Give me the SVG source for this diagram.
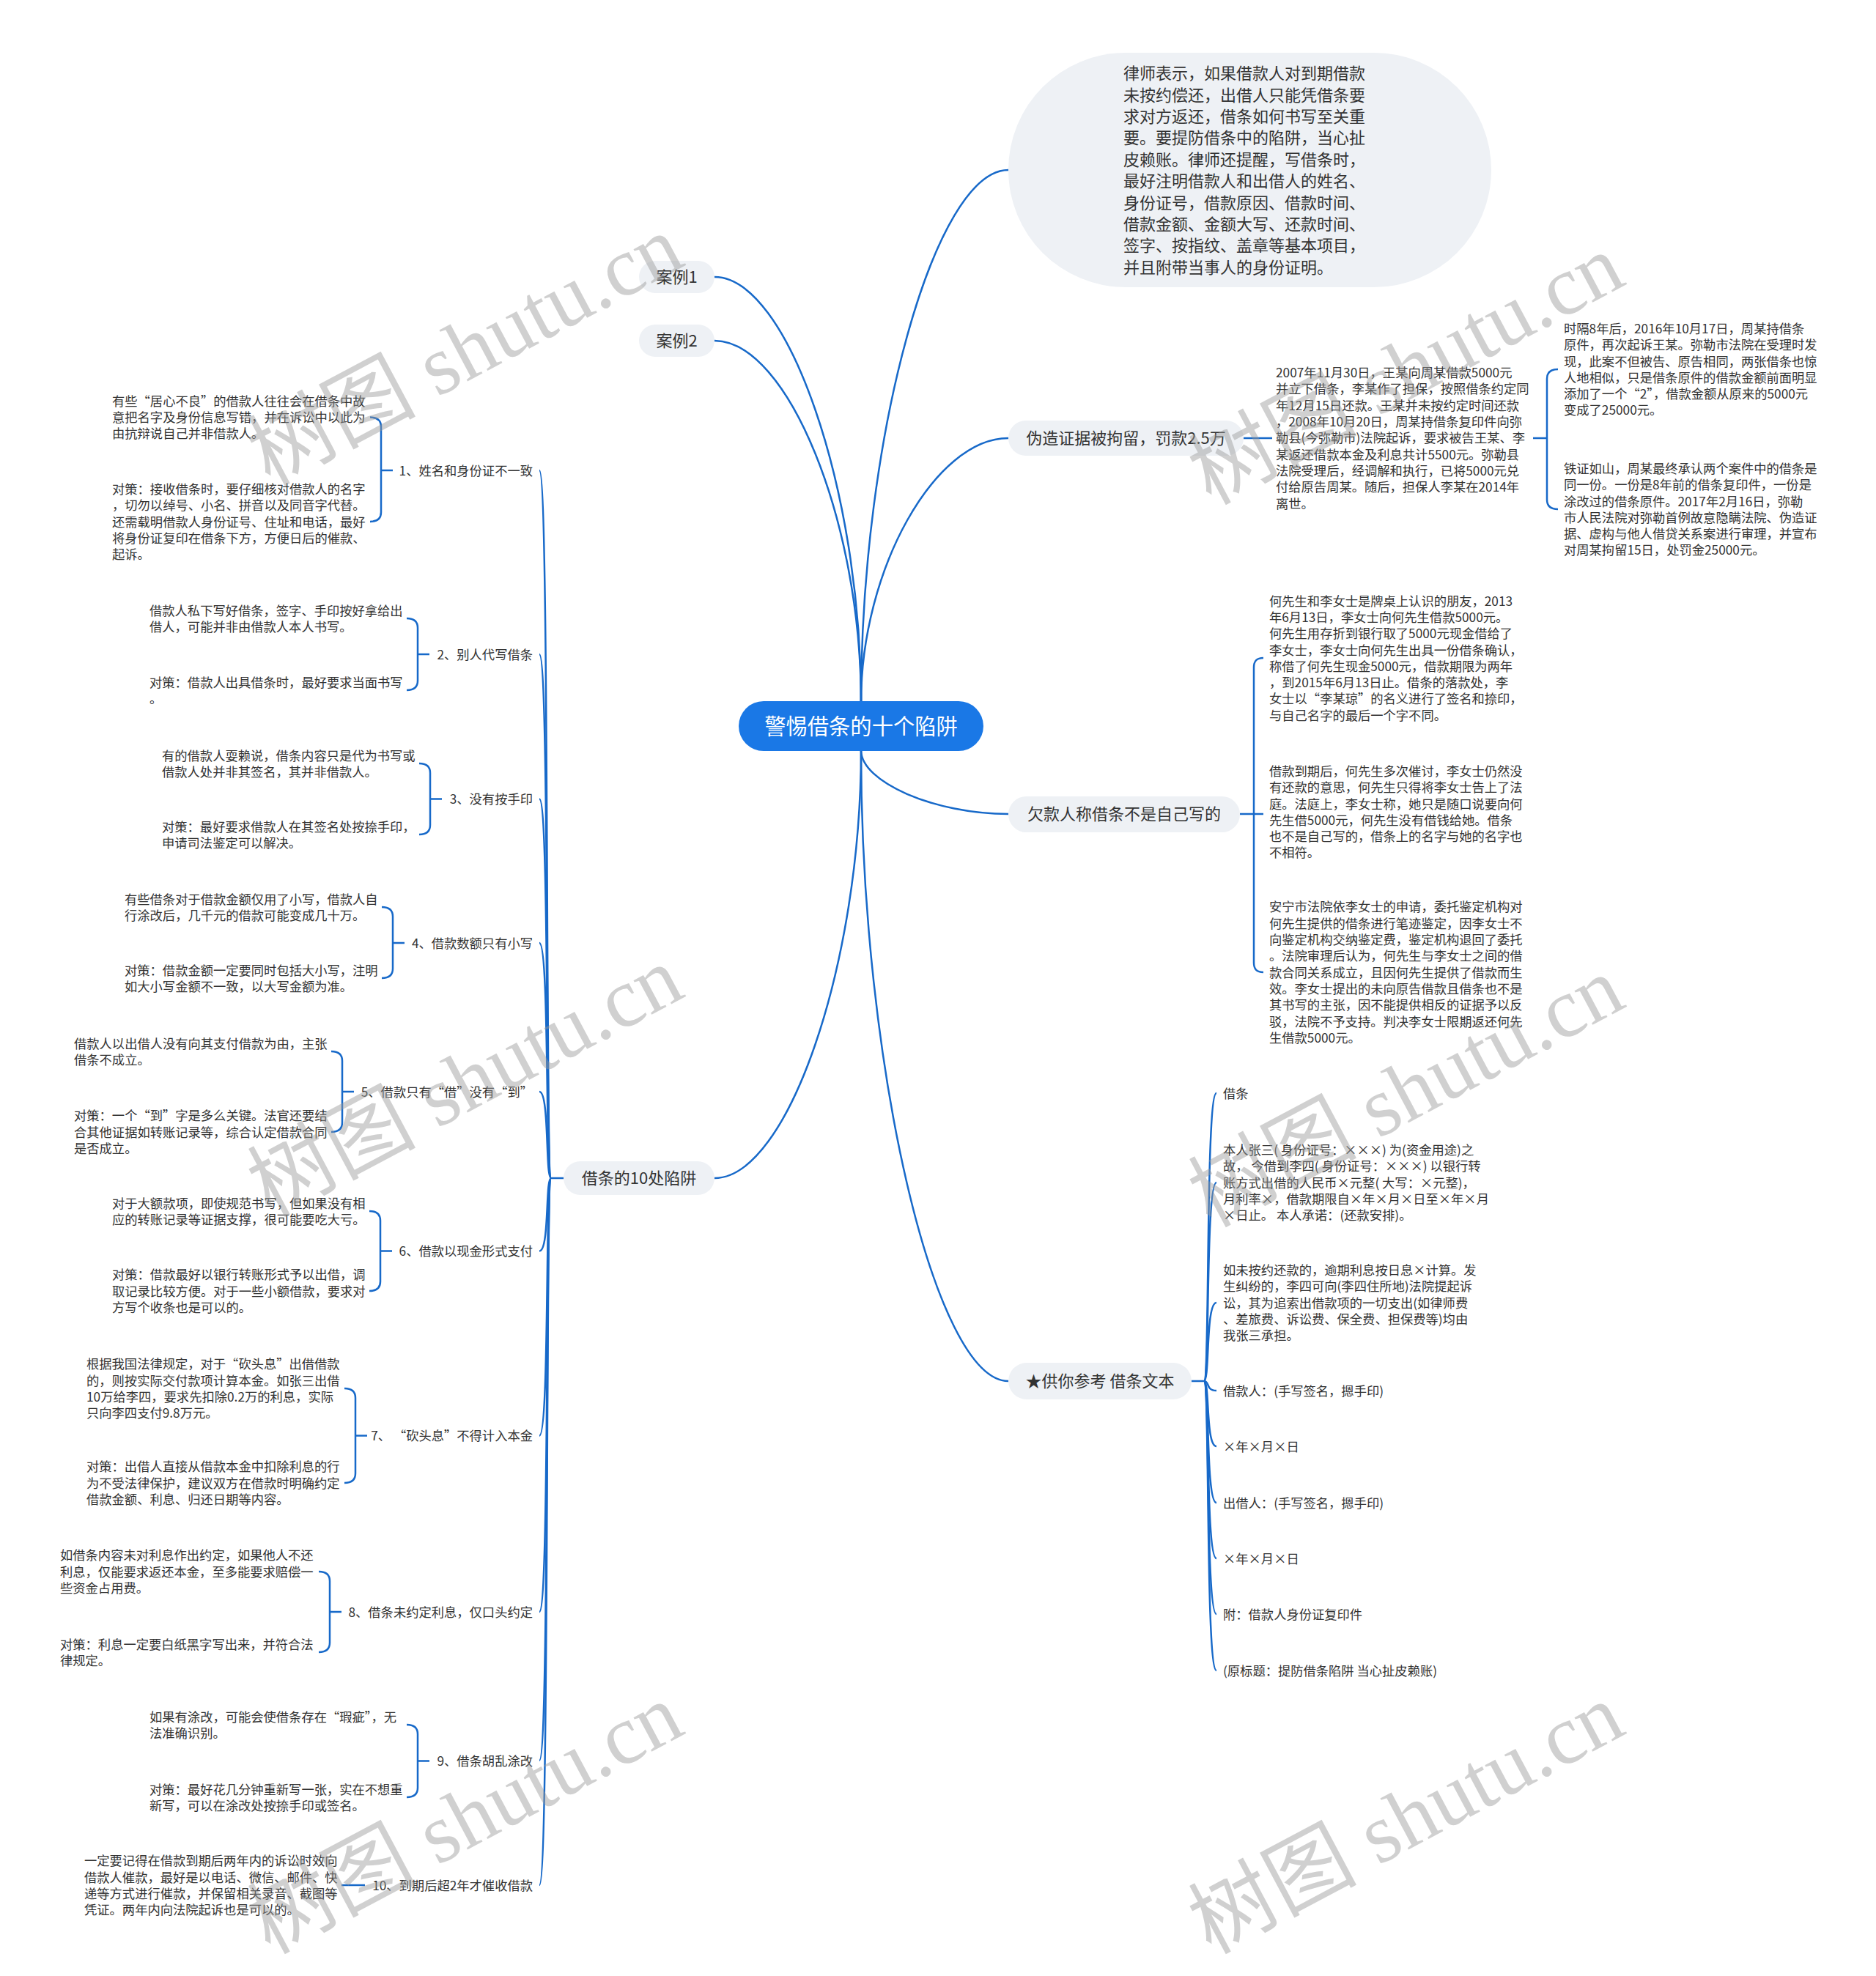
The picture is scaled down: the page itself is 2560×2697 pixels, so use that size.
<svg xmlns="http://www.w3.org/2000/svg" width="2560" height="2697" viewBox="0 0 2560 2697">
<style>
.t{font-family:"Noto Sans CJK SC","Noto Sans",sans-serif;fill:#333}
.s{font-size:17.3px}
.m{font-size:22px}
.c{font-size:29.3px;fill:#fff}
.e{text-anchor:end}
.mid{text-anchor:middle}
.n{fill:#eef1f5}
.ln{fill:none;stroke:#1769c9;stroke-width:2.5}
.wm{font-size:115px;fill:#999;opacity:.45}
</style>
<rect width="2560" height="2697" fill="#fff"/>

<g id="connectors">
<path class="ln" d="M1175 958 C1175 595 1275.5 232 1376 232"/>
<path class="ln" d="M1175 958 C1175 778 1275.5 598 1376 598"/>
<path class="ln" d="M1175 958 C1175 668 1075 378 975 378"/>
<path class="ln" d="M1175 958 C1175 711.5 1075 465 975 465"/>
<path class="ln" d="M1175 1024 C1175 1067.5 1275.5 1111 1376 1111"/>
<path class="ln" d="M1175 1024 C1175 1454.5 1275.5 1885 1376 1885"/>
<path class="ln" d="M1175 1024 C1175 1316 1075 1608 975 1608"/>
<!-- forged evidence -->
<path class="ln" d="M1697 598 H1736"/>
<path class="ln" d="M2092 598 H2111"/>
<path class="ln" d="M2126 504 C2117 504 2111 508 2111 517 L2111 682 C2111 691 2117 695 2126 695"/>
<!-- debtor -->
<path class="ln" d="M1692 1111 H1724"/>
<path class="ln" d="M1724 898 C1715 898 1711 902 1711 911 L1711 1314 C1711 1323 1715 1327 1724 1327"/>
<!-- IOU text -->
<path class="ln" d="M1626 1885 H1643"/>
<path class="ln" d="M1643 1885 C1651 1885 1645 1492 1660 1492"/>
<path class="ln" d="M1643 1885 C1651 1885 1645 1614 1660 1614"/>
<path class="ln" d="M1643 1885 C1651 1885 1645 1778 1660 1778"/>
<path class="ln" d="M1643 1885 C1651 1885 1645 1898 1660 1898"/>
<path class="ln" d="M1643 1885 C1651 1885 1645 1974 1660 1974"/>
<path class="ln" d="M1643 1885 C1651 1885 1645 2051 1660 2051"/>
<path class="ln" d="M1643 1885 C1651 1885 1645 2127 1660 2127"/>
<path class="ln" d="M1643 1885 C1651 1885 1645 2203 1660 2203"/>
<path class="ln" d="M1643 1885 C1651 1885 1645 2280 1660 2280"/>
<!-- 10 traps trunk -->
<path class="ln" d="M769 1608 H752"/>
<path class="ln" d="M752 1608 C744 1608 750 642 736 642"/>
<path class="ln" d="M752 1608 C744 1608 750 893 736 893"/>
<path class="ln" d="M752 1608 C744 1608 750 1090.5 736 1090.5"/>
<path class="ln" d="M752 1608 C744 1608 750 1287 736 1287"/>
<path class="ln" d="M752 1608 C744 1608 750 1490 736 1490"/>
<path class="ln" d="M752 1608 C744 1608 750 1707.5 736 1707.5"/>
<path class="ln" d="M752 1608 C744 1608 750 1959.5 736 1959.5"/>
<path class="ln" d="M752 1608 C744 1608 750 2200 736 2200"/>
<path class="ln" d="M752 1608 C744 1608 750 2403 736 2403"/>
<path class="ln" d="M752 1608 C744 1608 750 2573 736 2573"/>
<!-- braces left -->
<path class="ln" d="M505 569.5 C514 569.5 520 573.5 520 582.5 L520 699 C520 708 514 712 505 712 M520 642 H536"/>
<path class="ln" d="M555 844 C564 844 570 848 570 857 L570 929 C570 938 564 942 555 942 M570 893 H586"/>
<path class="ln" d="M572 1042 C581 1042 587 1046 587 1055 L587 1126 C587 1135 581 1139 572 1139 M587 1090.5 H603"/>
<path class="ln" d="M521 1238 C530 1238 536 1242 536 1251 L536 1322 C536 1331 530 1335 521 1335 M536 1287 H552"/>
<path class="ln" d="M452 1435 C461 1435 467 1439 467 1448 L467 1532 C467 1541 461 1545 452 1545 M467 1490 H483"/>
<path class="ln" d="M504 1653 C513 1653 519 1657 519 1666 L519 1749 C519 1758 513 1762 504 1762 M519 1707.5 H535"/>
<path class="ln" d="M470 1895 C479 1895 485 1899 485 1908 L485 2011 C485 2020 479 2024 470 2024 M485 1959.5 H501"/>
<path class="ln" d="M435 2145 C444 2145 450 2149 450 2158 L450 2242 C450 2251 444 2255 435 2255 M450 2200 H466"/>
<path class="ln" d="M555 2354 C564 2354 570 2358 570 2367 L570 2440 C570 2449 564 2453 555 2453 M570 2403.5 H586"/>
<path class="ln" d="M466 2573 H498"/>
</g>

<g id="center">
<rect x="1008" y="957" width="334" height="68" rx="34" fill="#1a78e6"/>
<text class="t c mid" x="1175" y="1002.3">警惕借条的十个陷阱</text>
</g>

<g id="intro">
<rect class="n" x="1376" y="72" width="659" height="320" rx="160"/>
<text class="t m" x="1533" y="108.2"><tspan x="1533">律师表示，如果借款人对到期借款</tspan><tspan x="1533" dy="29.4">未按约偿还，出借人只能凭借条要</tspan><tspan x="1533" dy="29.4">求对方返还，借条如何书写至关重</tspan><tspan x="1533" dy="29.4">要。要提防借条中的陷阱，当心扯</tspan><tspan x="1533" dy="29.4">皮赖账。律师还提醒，写借条时，</tspan><tspan x="1533" dy="29.4">最好注明借款人和出借人的姓名、</tspan><tspan x="1533" dy="29.4">身份证号，借款原因、借款时间、</tspan><tspan x="1533" dy="29.4">借款金额、金额大写、还款时间、</tspan><tspan x="1533" dy="29.4">签字、按指纹、盖章等基本项目，</tspan><tspan x="1533" dy="29.4">并且附带当事人的身份证明。</tspan></text>
</g>

<g id="case1">
<rect class="n" x="872" y="356" width="103" height="44" rx="22"/>
<text class="t m mid" x="923.5" y="386.4">案例1</text>
</g>
<g id="case2">
<rect class="n" x="872" y="443" width="103" height="44" rx="22"/>
<text class="t m mid" x="923.5" y="473.4">案例2</text>
</g>

<g id="forged">
<rect class="n" x="1376" y="574" width="321" height="48" rx="24"/>
<text class="t m mid" x="1536.5" y="606.4">伪造证据被拘留，罚款2.5万</text>
</g>
<g id="forged-story">
<text class="t s" x="1741" y="515.1"><tspan x="1741">2007年11月30日，王某向周某借款5000元</tspan><tspan x="1741" dy="22.3">并立下借条，李某作了担保，按照借条约定同</tspan><tspan x="1741" dy="22.3">年12月15日还款。王某并未按约定时间还款</tspan><tspan x="1741" dy="22.3">，2008年10月20日，周某持借条复印件向弥</tspan><tspan x="1741" dy="22.3">勒县(今弥勒市)法院起诉，要求被告王某、李</tspan><tspan x="1741" dy="22.3">某返还借款本金及利息共计5500元。弥勒县</tspan><tspan x="1741" dy="22.3">法院受理后，经调解和执行，已将5000元兑</tspan><tspan x="1741" dy="22.3">付给原告周某。随后，担保人李某在2014年</tspan><tspan x="1741" dy="22.3">离世。</tspan></text>
</g>
<g id="forged-a">
<text class="t s" x="2134" y="454.9"><tspan x="2134">时隔8年后，2016年10月17日，周某持借条</tspan><tspan x="2134" dy="22.3">原件，再次起诉王某。弥勒市法院在受理时发</tspan><tspan x="2134" dy="22.3">现，此案不但被告、原告相同，两张借条也惊</tspan><tspan x="2134" dy="22.3">人地相似，只是借条原件的借款金额前面明显</tspan><tspan x="2134" dy="22.3">添加了一个“2”，借款金额从原来的5000元</tspan><tspan x="2134" dy="22.3">变成了25000元。</tspan></text>
</g>
<g id="forged-b">
<text class="t s" x="2134" y="645.9"><tspan x="2134">铁证如山，周某最终承认两个案件中的借条是</tspan><tspan x="2134" dy="22.3">同一份。一份是8年前的借条复印件，一份是</tspan><tspan x="2134" dy="22.3">涂改过的借条原件。2017年2月16日，弥勒</tspan><tspan x="2134" dy="22.3">市人民法院对弥勒首例故意隐瞒法院、伪造证</tspan><tspan x="2134" dy="22.3">据、虚构与他人借贷关系案进行审理，并宣布</tspan><tspan x="2134" dy="22.3">对周某拘留15日，处罚金25000元。</tspan></text>
</g>

<g id="debtor">
<rect class="n" x="1376" y="1087" width="316" height="49" rx="24.5"/>
<text class="t m mid" x="1534" y="1119.4">欠款人称借条不是自己写的</text>
</g>
<g id="debtor-1">
<text class="t s" x="1732" y="826.6"><tspan x="1732">何先生和李女士是牌桌上认识的朋友，2013</tspan><tspan x="1732" dy="22.3">年6月13日，李女士向何先生借款5000元。</tspan><tspan x="1732" dy="22.3">何先生用存折到银行取了5000元现金借给了</tspan><tspan x="1732" dy="22.3">李女士，李女士向何先生出具一份借条确认，</tspan><tspan x="1732" dy="22.3">称借了何先生现金5000元，借款期限为两年</tspan><tspan x="1732" dy="22.3">，到2015年6月13日止。借条的落款处，李</tspan><tspan x="1732" dy="22.3">女士以“李某琼”的名义进行了签名和捺印，</tspan><tspan x="1732" dy="22.3">与自己名字的最后一个字不同。</tspan></text>
</g>
<g id="debtor-2">
<text class="t s" x="1732" y="1058.9"><tspan x="1732">借款到期后，何先生多次催讨，李女士仍然没</tspan><tspan x="1732" dy="22.3">有还款的意思，何先生只得将李女士告上了法</tspan><tspan x="1732" dy="22.3">庭。法庭上，李女士称，她只是随口说要向何</tspan><tspan x="1732" dy="22.3">先生借5000元，何先生没有借钱给她。借条</tspan><tspan x="1732" dy="22.3">也不是自己写的，借条上的名字与她的名字也</tspan><tspan x="1732" dy="22.3">不相符。</tspan></text>
</g>
<g id="debtor-3">
<text class="t s" x="1732" y="1244.4"><tspan x="1732">安宁市法院依李女士的申请，委托鉴定机构对</tspan><tspan x="1732" dy="22.3">何先生提供的借条进行笔迹鉴定，因李女士不</tspan><tspan x="1732" dy="22.3">向鉴定机构交纳鉴定费，鉴定机构退回了委托</tspan><tspan x="1732" dy="22.3">。法院审理后认为，何先生与李女士之间的借</tspan><tspan x="1732" dy="22.3">款合同关系成立，且因何先生提供了借款而生</tspan><tspan x="1732" dy="22.3">效。李女士提出的未向原告借款且借条也不是</tspan><tspan x="1732" dy="22.3">其书写的主张，因不能提供相反的证据予以反</tspan><tspan x="1732" dy="22.3">驳，法院不予支持。判决李女士限期返还何先</tspan><tspan x="1732" dy="22.3">生借款5000元。</tspan></text>
</g>

<g id="iou">
<rect class="n" x="1376" y="1860" width="250" height="50" rx="25"/>
<text class="t m mid" x="1501" y="1893.4">★供你参考 借条文本</text>
</g>
<g id="iou-items">
<text class="t s" x="1669" y="1498.6">借条</text>
<text class="t s" x="1669" y="1576"><tspan x="1669">本人张三( 身份证号：×××) 为(资金用途)之</tspan><tspan x="1669" dy="22.3">故， 今借到李四( 身份证号：×××) 以银行转</tspan><tspan x="1669" dy="22.3">账方式出借的人民币×元整( 大写：×元整)，</tspan><tspan x="1669" dy="22.3">月利率×，借款期限自×年×月×日至×年×月</tspan><tspan x="1669" dy="22.3">×日止。 本人承诺：(还款安排)。</tspan></text>
<text class="t s" x="1669" y="1740"><tspan x="1669">如未按约还款的，逾期利息按日息×计算。发</tspan><tspan x="1669" dy="22.3">生纠纷的，李四可向(李四住所地)法院提起诉</tspan><tspan x="1669" dy="22.3">讼，其为追索出借款项的一切支出(如律师费</tspan><tspan x="1669" dy="22.3">、差旅费、诉讼费、保全费、担保费等)均由</tspan><tspan x="1669" dy="22.3">我张三承担。</tspan></text>
<text class="t s" x="1669" y="1904.6">借款人：(手写签名，摁手印)</text>
<text class="t s" x="1669" y="1980.6">×年×月×日</text>
<text class="t s" x="1669" y="2057.6">出借人：(手写签名，摁手印)</text>
<text class="t s" x="1669" y="2133.6">×年×月×日</text>
<text class="t s" x="1669" y="2209.6">附：借款人身份证复印件</text>
<text class="t s" x="1669" y="2286.6">(原标题：提防借条陷阱 当心扯皮赖账)</text>
</g>

<g id="traps">
<rect class="n" x="769" y="1585" width="206" height="46" rx="23"/>
<text class="t m mid" x="872" y="1616.4">借条的10处陷阱</text>
</g>

<g id="trap1">
<text class="t s e" x="727" y="648.6">1、姓名和身份证不一致</text>
<text class="t s" x="153" y="553.6"><tspan x="153">有些“居心不良”的借款人往往会在借条中故</tspan><tspan x="153" dy="22.3">意把名字及身份信息写错，并在诉讼中以此为</tspan><tspan x="153" dy="22.3">由抗辩说自己并非借款人。</tspan></text>
<text class="t s" x="153" y="674.1"><tspan x="153">对策：接收借条时，要仔细核对借款人的名字</tspan><tspan x="153" dy="22.3">，切勿以绰号、小名、拼音以及同音字代替。</tspan><tspan x="153" dy="22.3">还需载明借款人身份证号、住址和电话，最好</tspan><tspan x="153" dy="22.3">将身份证复印在借条下方，方便日后的催款、</tspan><tspan x="153" dy="22.3">起诉。</tspan></text>
</g>
<g id="trap2">
<text class="t s e" x="727" y="899.6">2、别人代写借条</text>
<text class="t s" x="204" y="839.6"><tspan x="204">借款人私下写好借条，签字、手印按好拿给出</tspan><tspan x="204" dy="22.3">借人，可能并非由借款人本人书写。</tspan></text>
<text class="t s" x="204" y="937.6"><tspan x="204">对策：借款人出具借条时，最好要求当面书写</tspan><tspan x="204" dy="22.3">。</tspan></text>
</g>
<g id="trap3">
<text class="t s e" x="727" y="1097.1">3、没有按手印</text>
<text class="t s" x="221" y="1037.6"><tspan x="221">有的借款人耍赖说，借条内容只是代为书写或</tspan><tspan x="221" dy="22.3">借款人处并非其签名，其并非借款人。</tspan></text>
<text class="t s" x="221" y="1135.1"><tspan x="221">对策：最好要求借款人在其签名处按捺手印，</tspan><tspan x="221" dy="22.3">申请司法鉴定可以解决。</tspan></text>
</g>
<g id="trap4">
<text class="t s e" x="727" y="1293.6">4、借款数额只有小写</text>
<text class="t s" x="170" y="1233.6"><tspan x="170">有些借条对于借款金额仅用了小写，借款人自</tspan><tspan x="170" dy="22.3">行涂改后，几千元的借款可能变成几十万。</tspan></text>
<text class="t s" x="170" y="1330.6"><tspan x="170">对策：借款金额一定要同时包括大小写，注明</tspan><tspan x="170" dy="22.3">如大小写金额不一致，以大写金额为准。</tspan></text>
</g>
<g id="trap5">
<text class="t s e" x="727" y="1496.6">5、借款只有“借”没有“到”</text>
<text class="t s" x="101" y="1430.6"><tspan x="101">借款人以出借人没有向其支付借款为由，主张</tspan><tspan x="101" dy="22.3">借条不成立。</tspan></text>
<text class="t s" x="101" y="1529.4"><tspan x="101">对策：一个“到”字是多么关键。法官还要结</tspan><tspan x="101" dy="22.3">合其他证据如转账记录等，综合认定借款合同</tspan><tspan x="101" dy="22.3">是否成立。</tspan></text>
</g>
<g id="trap6">
<text class="t s e" x="727" y="1714.1">6、借款以现金形式支付</text>
<text class="t s" x="153" y="1648.6"><tspan x="153">对于大额款项，即使规范书写，但如果没有相</tspan><tspan x="153" dy="22.3">应的转账记录等证据支撑，很可能要吃大亏。</tspan></text>
<text class="t s" x="153" y="1746.3"><tspan x="153">对策：借款最好以银行转账形式予以出借，调</tspan><tspan x="153" dy="22.3">取记录比较方便。对于一些小额借款，要求对</tspan><tspan x="153" dy="22.3">方写个收条也是可以的。</tspan></text>
</g>
<g id="trap7">
<text class="t s e" x="727" y="1966.1">7、 “砍头息”不得计入本金</text>
<text class="t s" x="118" y="1868.2"><tspan x="118">根据我国法律规定，对于“砍头息”出借借款</tspan><tspan x="118" dy="22.3">的，则按实际交付款项计算本金。如张三出借</tspan><tspan x="118" dy="22.3">10万给李四，要求先扣除0.2万的利息，实际</tspan><tspan x="118" dy="22.3">只向李四支付9.8万元。</tspan></text>
<text class="t s" x="118" y="2008.3"><tspan x="118">对策：出借人直接从借款本金中扣除利息的行</tspan><tspan x="118" dy="22.3">为不受法律保护，建议双方在借款时明确约定</tspan><tspan x="118" dy="22.3">借款金额、利息、归还日期等内容。</tspan></text>
</g>
<g id="trap8">
<text class="t s e" x="727" y="2206.6">8、借条未约定利息，仅口头约定</text>
<text class="t s" x="82" y="2129.3"><tspan x="82">如借条内容未对利息作出约定，如果他人不还</tspan><tspan x="82" dy="22.3">利息，仅能要求返还本金，至多能要求赔偿一</tspan><tspan x="82" dy="22.3">些资金占用费。</tspan></text>
<text class="t s" x="82" y="2250.5"><tspan x="82">对策：利息一定要白纸黑字写出来，并符合法</tspan><tspan x="82" dy="22.3">律规定。</tspan></text>
</g>
<g id="trap9">
<text class="t s e" x="727" y="2409.6">9、借条胡乱涂改</text>
<text class="t s" x="204" y="2349.5"><tspan x="204">如果有涂改，可能会使借条存在“瑕疵”，无</tspan><tspan x="204" dy="22.3">法准确识别。</tspan></text>
<text class="t s" x="204" y="2448.5"><tspan x="204">对策：最好花几分钟重新写一张，实在不想重</tspan><tspan x="204" dy="22.3">新写，可以在涂改处按捺手印或签名。</tspan></text>
</g>
<g id="trap10">
<text class="t s e" x="727" y="2579.6">10、到期后超2年才催收借款</text>
<text class="t s" x="115" y="2546.2"><tspan x="115">一定要记得在借款到期后两年内的诉讼时效向</tspan><tspan x="115" dy="22.3">借款人催款，最好是以电话、微信、邮件、快</tspan><tspan x="115" dy="22.3">递等方式进行催款，并保留相关录音、截图等</tspan><tspan x="115" dy="22.3">凭证。两年内向法院起诉也是可以的。</tspan></text>
</g>

<g id="watermarks">
<text class="wm" transform="translate(368,664) rotate(-28)"><tspan font-family="Noto Sans CJK SC, sans-serif">树图</tspan><tspan font-family="Liberation Serif, serif"> shutu.cn</tspan></text>
<text class="wm" transform="translate(1652,690) rotate(-28)"><tspan font-family="Noto Sans CJK SC, sans-serif">树图</tspan><tspan font-family="Liberation Serif, serif"> shutu.cn</tspan></text>
<text class="wm" transform="translate(368,1662) rotate(-28)"><tspan font-family="Noto Sans CJK SC, sans-serif">树图</tspan><tspan font-family="Liberation Serif, serif"> shutu.cn</tspan></text>
<text class="wm" transform="translate(1652,1676) rotate(-28)"><tspan font-family="Noto Sans CJK SC, sans-serif">树图</tspan><tspan font-family="Liberation Serif, serif"> shutu.cn</tspan></text>
<text class="wm" transform="translate(368,2668) rotate(-28)"><tspan font-family="Noto Sans CJK SC, sans-serif">树图</tspan><tspan font-family="Liberation Serif, serif"> shutu.cn</tspan></text>
<text class="wm" transform="translate(1652,2668) rotate(-28)"><tspan font-family="Noto Sans CJK SC, sans-serif">树图</tspan><tspan font-family="Liberation Serif, serif"> shutu.cn</tspan></text>
</g>
</svg>
